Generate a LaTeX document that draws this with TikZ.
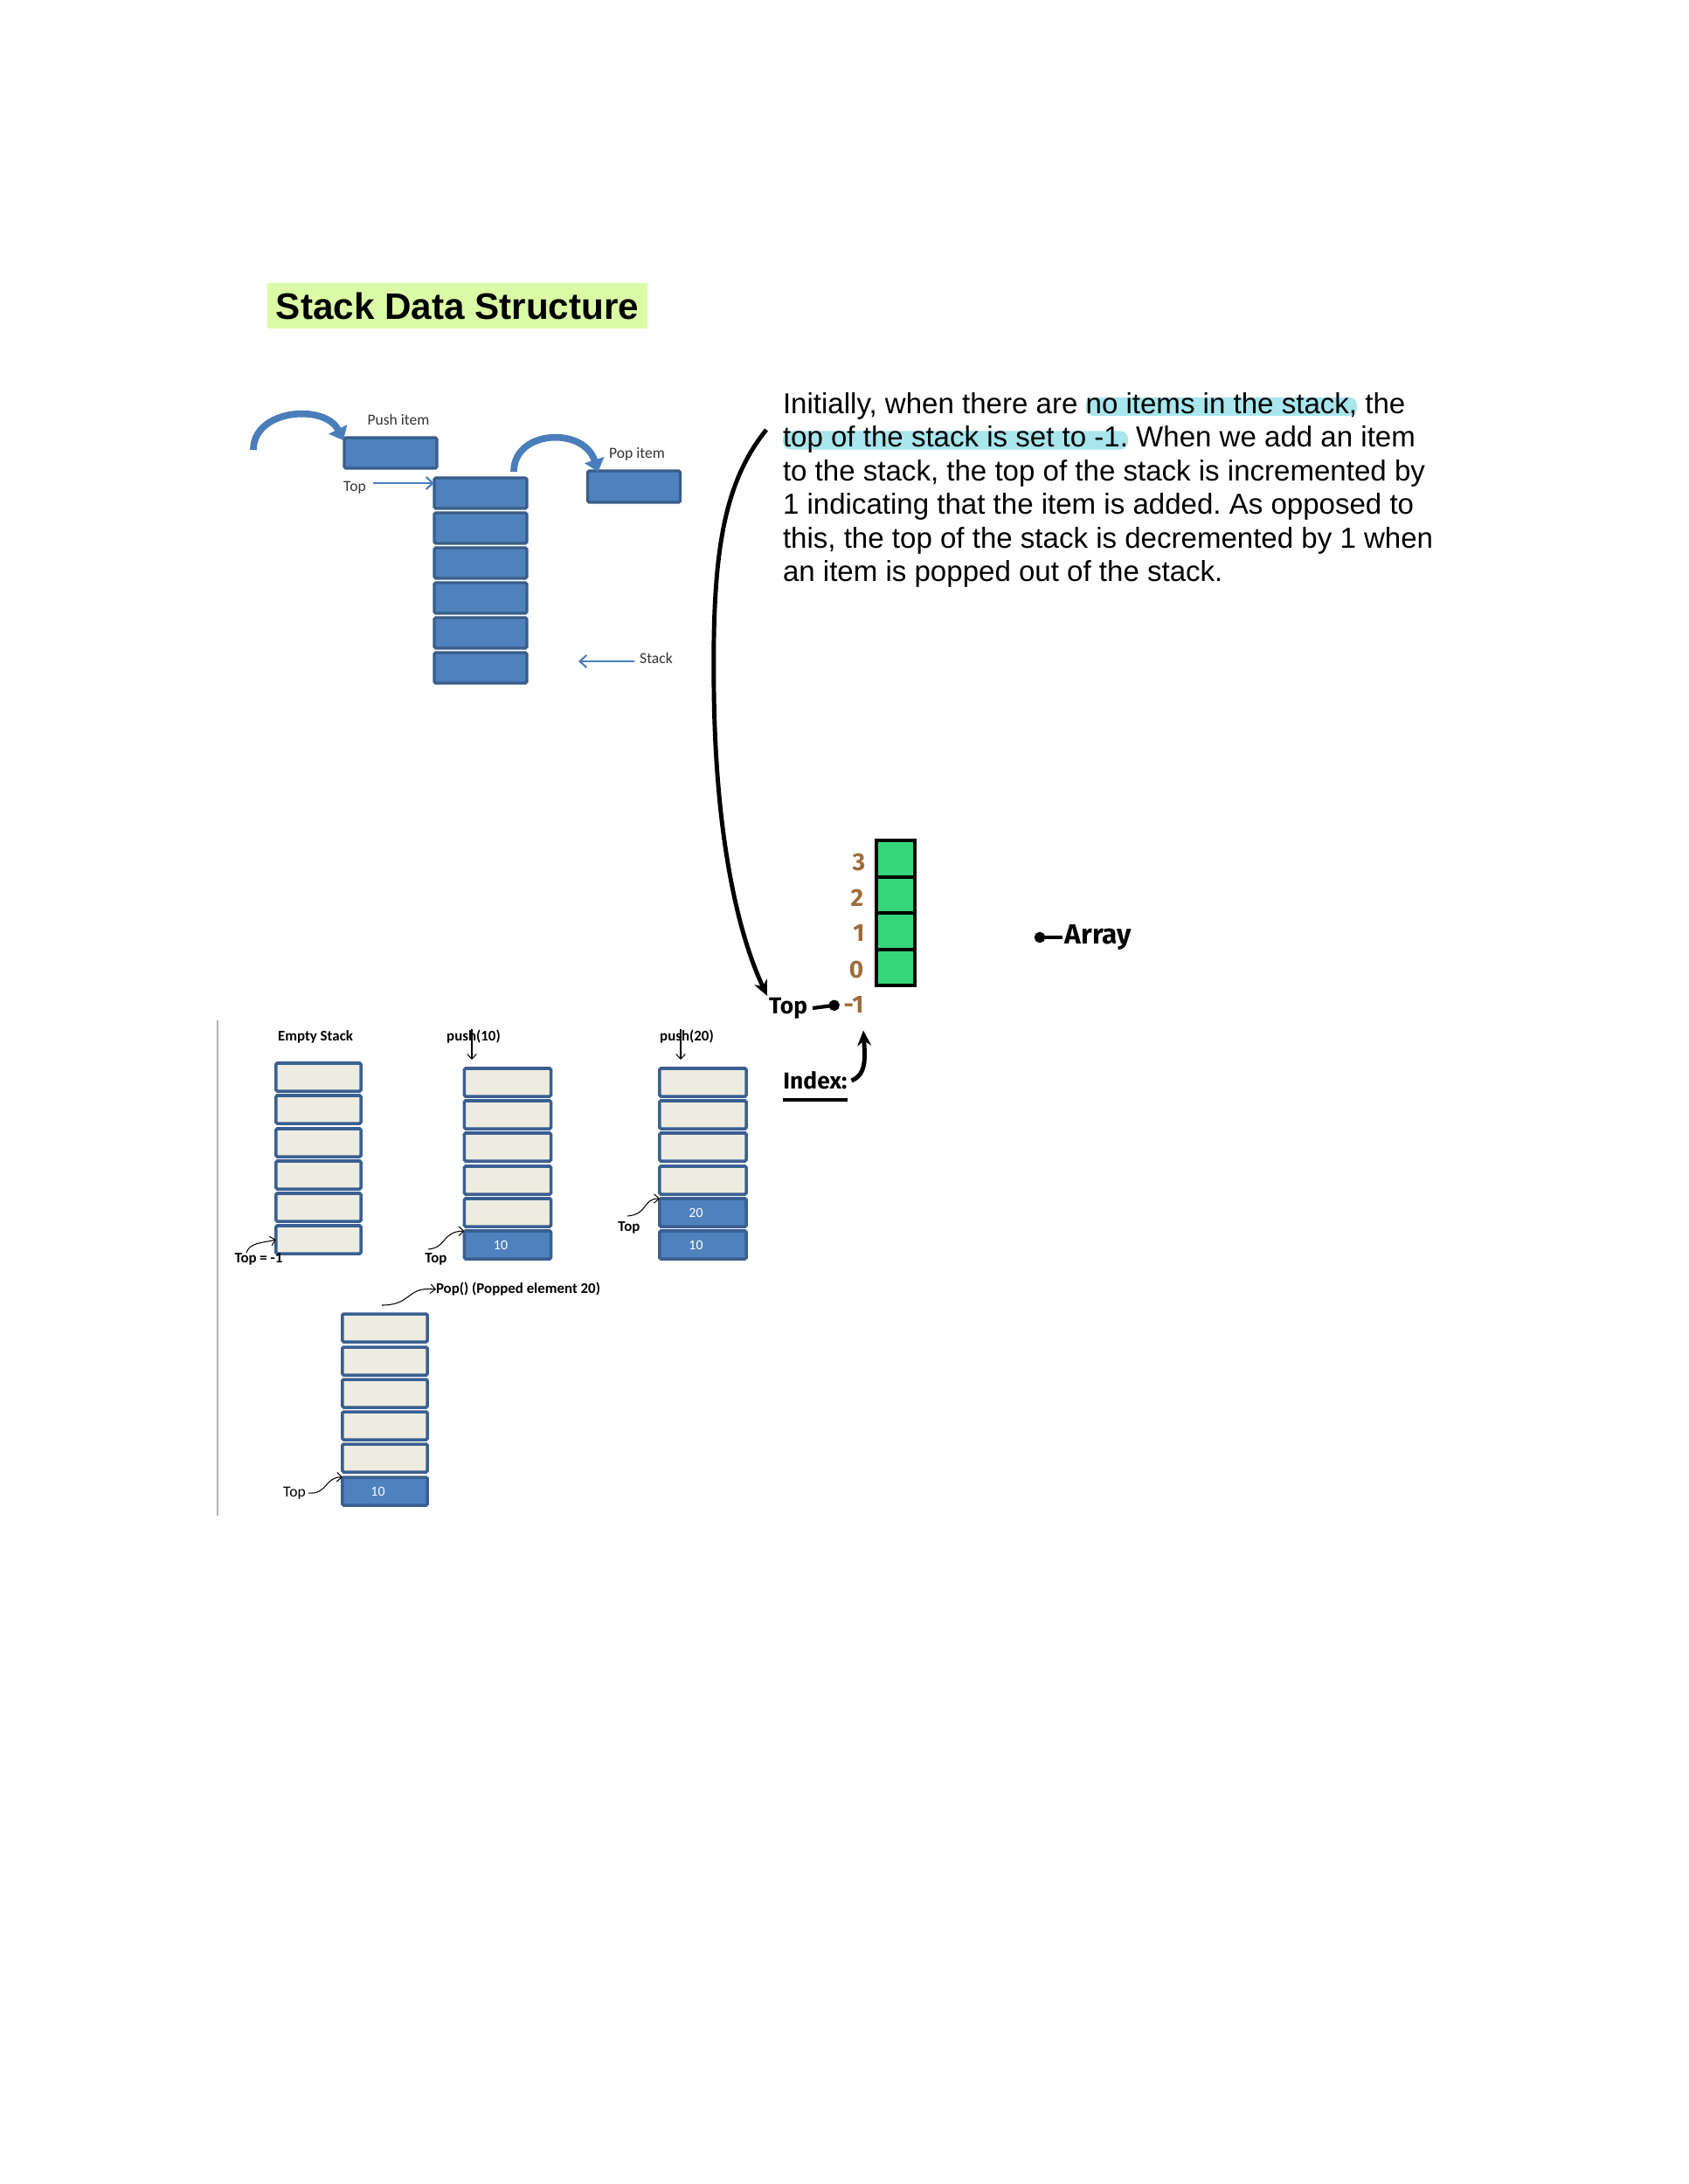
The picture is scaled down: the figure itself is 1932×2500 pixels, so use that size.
\documentclass[tikz,border=0pt]{standalone}
\usepackage{fontspec}
\setmainfont{Liberation Sans}
\newfontfamily\calfont{Carlito}
\newfontfamily\handfont{Fira Sans}
\usetikzlibrary{arrows.meta,backgrounds}
\frenchspacing
\definecolor{boxblue}{HTML}{4F81BD}
\definecolor{boxedge}{HTML}{385D8A}
\definecolor{celledge}{HTML}{3A5F91}
\definecolor{beige}{HTML}{EEECE1}
\definecolor{arrblue}{HTML}{4A7EBB}
\definecolor{arrgreen}{HTML}{35D67A}
\definecolor{idxbrown}{HTML}{9E6C3A}
\definecolor{hlcyan}{HTML}{A8E6EE}
\definecolor{titlehl}{HTML}{DBFCA6}
\definecolor{lbltext}{HTML}{333333}
\begin{document}
\begin{tikzpicture}[x=0.01cm,y=-0.01cm,
 every node/.style={inner sep=0pt, outer sep=0pt},
 bluebox/.style={draw=boxedge, fill=boxblue, line width=0.9pt, rounded corners=0.5pt, minimum width=1.06cm, minimum height=0.35cm},
 cellbox/.style={draw=celledge, fill=beige, line width=1pt, rounded corners=0.4pt, minimum height=0.32cm},
 valbox/.style={cellbox, fill=boxblue, text=white, font=\calfont\fontsize{4.5pt}{5pt}\selectfont},
 gcell/.style={draw=black, fill=arrgreen, line width=1.2pt, minimum width=0.44cm, minimum height=0.415cm},
 lbl/.style={font=\calfont\fontsize{5pt}{6pt}\selectfont, text=lbltext},
 blbl/.style={font=\calfont\bfseries\fontsize{4.8pt}{6pt}\selectfont, text=black},
 para/.style={font=\fontsize{9.4pt}{11pt}\selectfont, anchor=base west, text=black},
 idx/.style={font=\handfont\bfseries\fontsize{8pt}{9pt}\selectfont, text=idxbrown},
 hand/.style={font=\handfont\bfseries\fontsize{7.5pt}{9pt}\selectfont},
 thickblue/.style={draw=arrblue, line width=2.2pt, -{Triangle[length=4pt,width=6.5pt]}},
 thinblue/.style={draw=arrblue, line width=0.6pt, -{Straight Barb[length=2.2pt,width=4pt]}},
 thinblk/.style={draw=black, line width=0.3pt, -{Straight Barb[length=1.6pt,width=3pt]}},
 handarrow/.style={draw=black, line width=1.4pt, -{Stealth[length=5pt,width=4.5pt]}},
 dotarrow/.style={draw=black, line width=1.2pt, -{Circle[length=3.5pt]}},
 hl/.style={fill=hlcyan, rounded corners=2.5pt}]
\useasboundingbox (0,0) rectangle (1932,2500);

% ---------- title ----------
\node[fill=titlehl, minimum width=4.35cm, minimum height=0.52cm,
      font=\bfseries\fontsize{12pt}{14pt}\selectfont] (title) at (523.5,350) {Stack Data Structure};

% ---------- paragraph ----------
\node[para] (p1a) at (896,473) {Initially, when there are\ \mbox{}};
\node[para] (p1b) at (p1a.base east) {no items in the stack,};
\node[para] (p1c) at (p1b.base east) {\ the};
\node[para] (p2a) at (896,511.5) {top of the stack is set to -1.};
\node[para] (p2b) at (p2a.base east) {\ When we add an item};
\node[para] (p3) at (896,550) {to the stack, the top of the stack is incremented by};
\node[para] (p4) at (896,588.5) {1 indicating that the item is added. As opposed to};
\node[para] (p5) at (896,627) {this, the top of the stack is decremented by 1 when};
\node[para] (p6) at (896,665.5) {an item is popped out of the stack.};
\begin{pgfonlayer}{background}
\fill[hl] ([yshift=-0.03cm]p1b.base west) rectangle ([yshift=0.18cm]p1b.base east);
\fill[hl] ([yshift=-0.03cm]p2a.base west) rectangle ([yshift=0.18cm]p2a.base east);
\end{pgfonlayer}

% ---------- top-left stack picture ----------
\node[bluebox] (push) at (447,518.5) {};
\foreach \i/\yy in {1/564.5,2/604.5,3/644.5,4/684.5,5/724.5,6/764.5}
  {\node[bluebox] (s\i) at (550,\yy) {};}
\node[bluebox, minimum height=0.36cm] (pop) at (725.5,557) {};
\node[lbl] (pushlbl) at (456,480) {Push item};
\node[lbl] (poplbl) at (729,520) {Pop item};
\node[lbl] (toplbl) at (406,558) {Top};
\node[lbl] (stacklbl) at (751,753) {Stack};
\coordinate (topA) at (427,553);
\draw[thinblue] (topA) -- (topA -| s1.west);
\coordinate (stkA) at (726,757);
\draw[thinblue] (stkA) -- ++(-64,0);
\coordinate (pushS) at (290,515);
\draw[thickblue] (pushS) .. controls (290,468) and (372,462) .. ([xshift=-0.01cm,yshift=-0.03cm]push.north west);
\coordinate (popS) at (588,540);
\draw[thickblue] (popS) .. controls (588,492) and (668,488) .. ([xshift=0.12cm,yshift=-0.01cm]pop.north west);

% ---------- array picture ----------
\node[gcell] (g3) at (1025,983) {};
\node[gcell] (g2) at (1025,1024.5) {};
\node[gcell] (g1) at (1025,1066) {};
\node[gcell] (g0) at (1025,1107.5) {};
\node[idx] (n3) at (983,987) {3};
\node[idx] (n2) at (981,1028) {2};
\node[idx] (n1) at (983,1068) {1};
\node[idx] (n0) at (980,1110) {0};
\node[idx] (nm1) at (977,1150) {-1};
\node[hand] (htop) at (902,1154) {Top};
\draw[dotarrow] ([xshift=0.06cm]htop.east) -- ([xshift=-0.05cm]nm1.west);
\node[hand] (idxlbl) at (933,1237) {Index:};
\draw[line width=1.1pt] ([yshift=-0.12cm]idxlbl.base west) -- ([yshift=-0.12cm]idxlbl.base east);
\draw[handarrow] ([xshift=0.05cm]idxlbl.east) .. controls (992,1230) and (990,1210) .. ([xshift=0.11cm,yshift=-0.2cm]nm1.south);
\node[hand, font=\handfont\bfseries\fontsize{9pt}{10pt}\selectfont] (arr) at (1257,1073) {Array};
\draw[dotarrow] ([xshift=-0.03cm]arr.west) -- ++(-32,0);
\coordinate (bigS) at (877,492);
\draw[handarrow] (bigS) .. controls (826,555) and (815,640) .. (817,790)
   .. controls (819,960) and (845,1070) .. ([xshift=-0.02cm,yshift=0.02cm]htop.north west);

% ---------- bottom stack sequence ----------
\draw[gray!60, line width=0.6pt] (249,1168) -- (249,1735);

\node[blbl] (lempty) at (361,1187) {Empty Stack};
\foreach \i/\yy in {1/1233,2/1270,3/1308,4/1345,5/1382,6/1419}
  {\node[cellbox, minimum width=0.97cm] (e\i) at (364.5,\yy) {};}
\node[blbl] (tope) at (296,1441) {Top = -1};
\draw[thinblk] (282,1434) .. controls (286,1422) and (300,1423) .. (e6.west);

\node[blbl] (lp10) at (542,1187) {push(10)};
\coordinate (pa) at (540,1178);
\draw[thinblk] (pa) -- ++(0,35);
\foreach \i/\yy in {1/1239,2/1276,3/1313,4/1351,5/1388}
  {\node[cellbox, minimum width=0.99cm] (q\i) at (581,\yy) {};}
\node[valbox, minimum width=0.99cm] (q6) at (581,1425) {\hspace*{-0.16cm}10};
\node[blbl] (topq) at (499,1441) {Top};
\draw[thinblk] (490,1430) .. controls (512,1428) and (505,1410) .. (q6.north west);

\node[blbl] (lp20) at (786,1187) {push(20)};
\coordinate (pb) at (779,1178);
\draw[thinblk] (pb) -- ++(0,35);
\foreach \i/\yy in {1/1239,2/1276,3/1313,4/1351}
  {\node[cellbox, minimum width=0.99cm] (r\i) at (804.5,\yy) {};}
\node[valbox, minimum width=0.99cm] (r5) at (804.5,1388) {\hspace*{-0.16cm}20};
\node[valbox, minimum width=0.99cm] (r6) at (804.5,1425) {\hspace*{-0.16cm}10};
\node[blbl] (topr) at (720,1405) {Top};
\draw[thinblk] (718,1392) .. controls (742,1390) and (735,1372) .. (r5.north west);

\node[blbl, anchor=west] (lpop) at (499,1476) {Pop() (Popped element 20)};
\coordinate (popA) at (437,1494);
\draw[thinblk] (popA) .. controls (472,1494) and (465,1472) .. (lpop.west);
\foreach \i/\yy in {1/1520,2/1558,3/1595,4/1632,5/1669}
  {\node[cellbox, minimum width=0.97cm] (o\i) at (440.5,\yy) {};}
\node[valbox, minimum width=0.97cm] (o6) at (440.5,1707) {\hspace*{-0.16cm}10};
\node[lbl, text=black] (topo) at (337,1709) {Top};
\draw[thinblk] ([xshift=0.03cm]topo.east) .. controls (375,1711) and (372,1690) .. (o6.north west);
\end{tikzpicture}
\end{document}
